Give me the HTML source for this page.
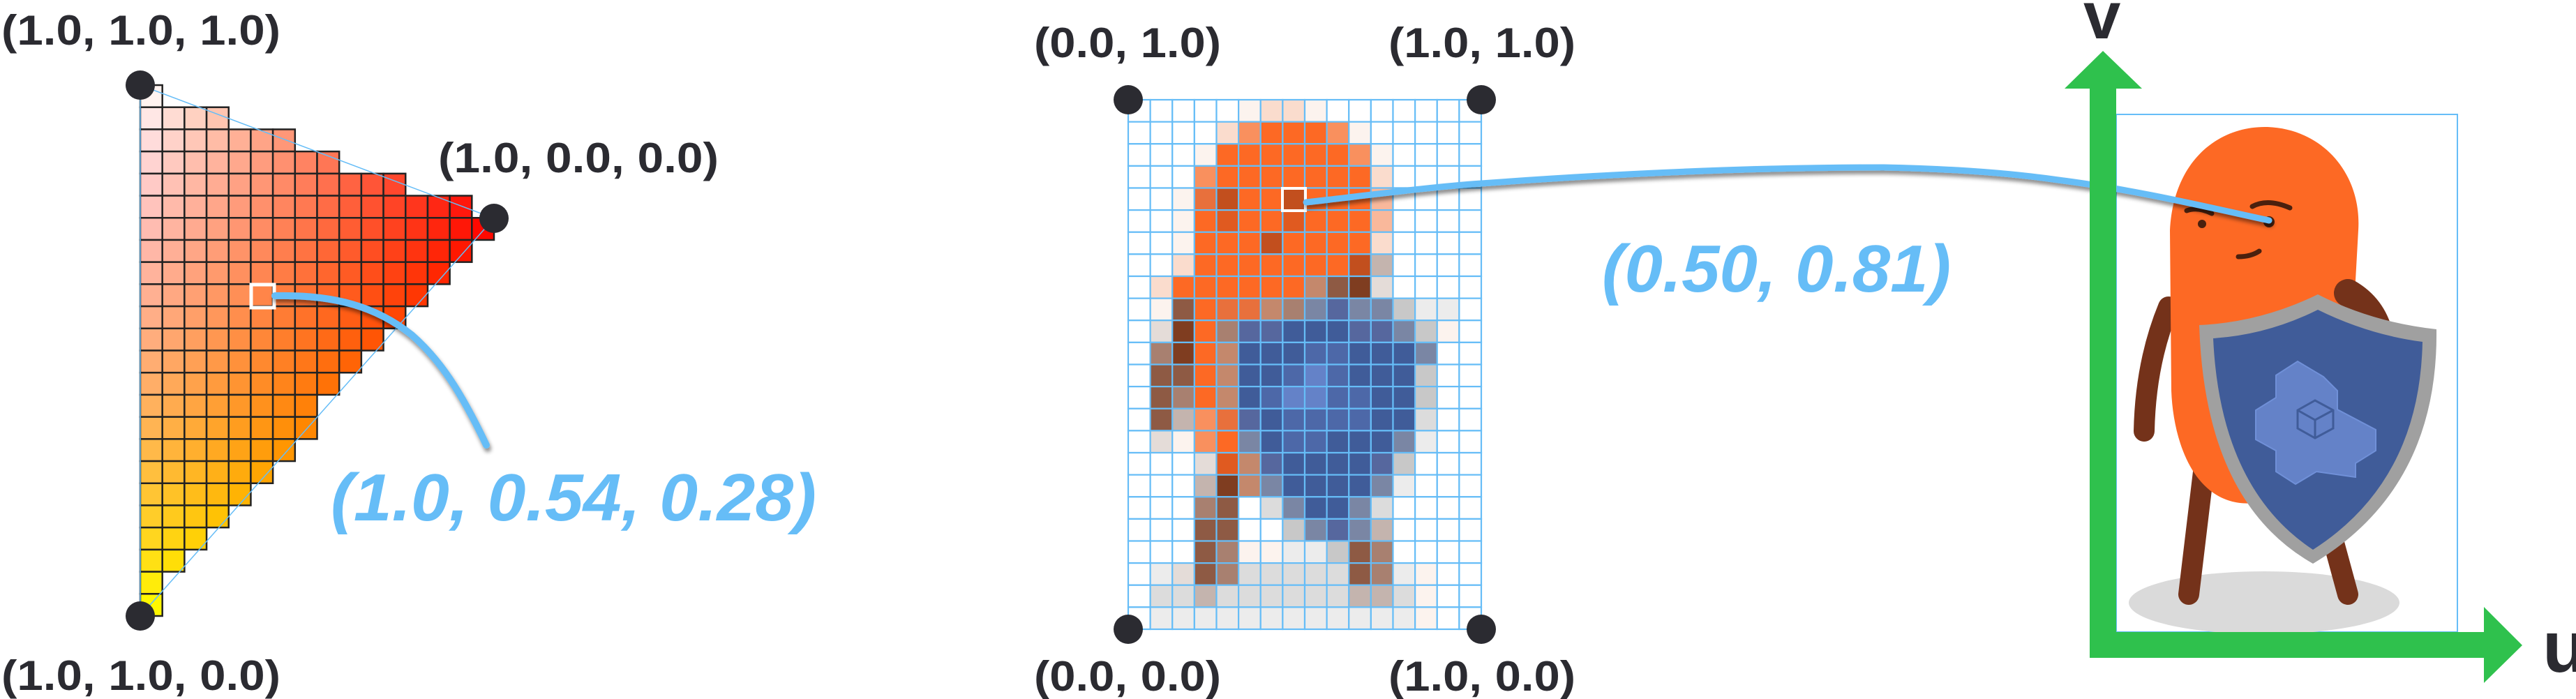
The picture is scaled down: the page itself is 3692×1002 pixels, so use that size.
<!DOCTYPE html>
<html><head><meta charset="utf-8">
<style>
html,body{margin:0;padding:0;background:#fff;}
svg{display:block;}
text{font-family:"Liberation Sans",sans-serif;font-weight:bold;}
</style></head>
<body>
<svg id="s" width="3692" height="1002" viewBox="0 0 3692 1002" xmlns="http://www.w3.org/2000/svg">
<defs>
<filter id="sh" x="-20%" y="-20%" width="140%" height="160%"><feDropShadow dx="2" dy="5" stdDeviation="3" flood-color="#000" flood-opacity="0.45"/></filter>
</defs>
<g id="tri"></g>
<polygon points="201,122 708,313 201,883" fill="none" stroke="#66bdf7" stroke-width="1.5"/>
<rect x="360" y="408" width="33" height="33" fill="none" stroke="#fff" stroke-width="5"/>
<path d="M394,424 C480,422 540,440 590,480 C630,515 660,560 697,638" fill="none" stroke="#66bdf7" stroke-width="10" stroke-linecap="round" filter="url(#sh)"/>
<circle cx="201" cy="122" r="21" fill="#2b2b31"/>
<circle cx="708" cy="313" r="21" fill="#2b2b31"/>
<circle cx="201" cy="883" r="21" fill="#2b2b31"/>
<text x="2" y="64" font-size="60" fill="#2b2b31" textLength="400" lengthAdjust="spacingAndGlyphs">(1.0, 1.0, 1.0)</text>
<text x="628" y="247" font-size="60" fill="#2b2b31" textLength="402" lengthAdjust="spacingAndGlyphs">(1.0, 0.0, 0.0)</text>
<text x="2" y="989" font-size="60" fill="#2b2b31" textLength="400" lengthAdjust="spacingAndGlyphs">(1.0, 1.0, 0.0)</text>
<text x="474" y="746" font-size="96" font-style="italic" fill="#66bdf7" textLength="696" lengthAdjust="spacingAndGlyphs">(1.0, 0.54, 0.28)</text>

<g id="pix"></g>
<rect x="1838" y="270" width="33" height="32" fill="none" stroke="#fff" stroke-width="4"/>
<circle cx="1617" cy="143" r="21" fill="#2b2b31"/>
<circle cx="2123" cy="143" r="21" fill="#2b2b31"/>
<circle cx="1617" cy="902" r="21" fill="#2b2b31"/>
<circle cx="2123" cy="902" r="21" fill="#2b2b31"/>
<text x="1482" y="82" font-size="60" fill="#2b2b31" textLength="268" lengthAdjust="spacingAndGlyphs">(0.0, 1.0)</text>
<text x="1990" y="82" font-size="60" fill="#2b2b31" textLength="268" lengthAdjust="spacingAndGlyphs">(1.0, 1.0)</text>
<text x="1482" y="990" font-size="60" fill="#2b2b31" textLength="268" lengthAdjust="spacingAndGlyphs">(0.0, 0.0)</text>
<text x="1990" y="990" font-size="60" fill="#2b2b31" textLength="268" lengthAdjust="spacingAndGlyphs">(1.0, 0.0)</text>
<text x="2296" y="418" font-size="96" font-style="italic" fill="#66bdf7" textLength="500" lengthAdjust="spacingAndGlyphs">(0.50, 0.81)</text>

<!-- right: character -->
<rect x="3033" y="164" width="489" height="742" fill="none" stroke="#66bdf7" stroke-width="2"/>
<ellipse cx="3245" cy="864" rx="194" ry="45" fill="#dadada"/>
<g stroke-linecap="round" fill="none">
<path d="M3108,440 Q3075,520 3073,618" stroke="#74321a" stroke-width="30"/>
<path d="M3160,660 L3137,852" stroke="#74321a" stroke-width="30"/>
<path d="M3340,760 L3365,852" stroke="#74321a" stroke-width="30"/>
<path d="M3110,330 C3115,230 3180,180 3250,182 C3330,185 3385,250 3380,330 L3375,420 C3370,520 3330,700 3240,720 C3150,735 3115,640 3112,560 Z" fill="#fd6924"/>
<path d="M3365,420 Q3400,440 3410,480" stroke="#74321a" stroke-width="40"/>
<circle cx="3156" cy="321" r="6" fill="#4a200e"/>
<circle cx="3252" cy="318" r="8" fill="#4a200e"/>
<path d="M3134,302 Q3150,296 3170,306" stroke="#4a200e" stroke-width="7"/>
<path d="M3228,296 Q3250,284 3282,298" stroke="#4a200e" stroke-width="7"/>
<path d="M3208,368 Q3226,368 3238,360" stroke="#4a200e" stroke-width="7"/>
</g>
<g>
<path d="M3152,466 Q3240,462 3322,422 Q3400,462 3492,472 Q3495,700 3315,808 Q3160,720 3152,466 Z" fill="#a0a0a0"/>
<path d="M3172,485 Q3250,480 3322,444 Q3395,480 3472,490 Q3468,690 3315,788 Q3182,700 3172,485 Z" fill="#405c99"/>
<g fill="#6482c8" stroke="#7090d8" stroke-width="2">
<polygon points="3262,538 3293,518 3330,540 3350,560 3350,587 3405,616 3405,646 3376,664 3376,684 3320,676 3290,694 3262,676 3262,646 3233,630 3233,588 3262,570"/>
</g>
<g fill="none" stroke="#405c99" stroke-width="3">
<polygon points="3293,588 3318,574 3344,588 3344,614 3318,628 3293,614"/>
<path d="M3293,588 L3318,602 L3344,588 M3318,602 L3318,628"/>
</g>
</g>
<path d="M1872,290 C1960,280 2050,268 2123,263 C2300,250 2500,240 2700,240 C2800,242 2880,248 2950,258 C3060,272 3160,296 3252,316" fill="none" stroke="#66bdf7" stroke-width="9" stroke-linecap="round" filter="url(#sh)"/>
<g fill="#2fc14d">
<rect x="2995" y="127" width="38" height="816"/>
<polygon points="3014,73 3070,127 2959,127"/>
<rect x="2995" y="906" width="566" height="37"/>
<polygon points="3615,925 3560,870 3560,979"/>
</g>
<text x="2986" y="55" font-size="96" fill="#2b2b31">v</text>
<text x="3644" y="963" font-size="104" fill="#2b2b31">u</text>
</svg>
<script>
// Left triangle: number of cells in each row (top to bottom)
const rowCounts = [1,4,7,9,12,15,16,15,14,13,12,11,10,9,8,8,7,6,5,4,3,2,1,1];
// Vertex colours (r,g,b) for top, right, bottom
const topColor = [1,1,1];
const rightColor = [1,0,0];
const bottomColor = [1,1,0];
// Texture pixel map (16 x 24)
const pixelRows = [
".....fppf.......",
"....poOOOof.....",
"...fOOOOOOof....",
"...oOOOOOOOp....",
"..fedOOdOOOq....",
"..fODOODOOOq....",
"..fOOOdOOOOp....",
"..pOOOOOOOdx....",
".pOOOOOOknNz....",
".fnOeekmvwvvghh.",
".zNOmwwBBBwwvgf.",
".mNOkBBBbbBBBv..",
".nnOkBBbLbBBBg..",
".nmOkBbLLbbBBg..",
".nxoewBbbbbBBG..",
".zfoOvBbbBBBvh..",
"...zDkwBBBBwg...",
"...xNkvBBBBvh...",
"...mn.GvBBvG....",
"...nn..gvwvx....",
"...nmffhhgnm....",
".hznmGGGGGnmhf..",
".GGxGGGGGGxxGf..",
".hhhhhhhhhhhhf.."];
const palette = {'.':'#ffffff','f':'#fcf3ee','p':'#fadccd','q':'#f9b89b','o':'#f9905e','O':'#fd6924','e':'#e8703c','d':'#c24f1e','D':'#e05a20','N':'#7f3d20','n':'#8e5a44','m':'#a88070','k':'#c4886c','B':'#405c99','b':'#4d68a8','L':'#6482c8','v':'#7a86a4','g':'#c8c8c8','G':'#dcdcdc','h':'#ececec','x':'#c4b4ae','z':'#e4dcd8','w':'#56679e'};

const NS='http://www.w3.org/2000/svg';
const T=[201,122],R=[708,313],Bv=[201,883];
const cw=507/16, ch=761/24;
function bary(x,y){
  const d=(R[1]-Bv[1])*(T[0]-Bv[0])+(Bv[0]-R[0])*(T[1]-Bv[1]);
  let a=((R[1]-Bv[1])*(x-Bv[0])+(Bv[0]-R[0])*(y-Bv[1]))/d;
  let b=((Bv[1]-T[1])*(x-Bv[0])+(T[0]-Bv[0])*(y-Bv[1]))/d;
  a=Math.max(0,Math.min(1,a));b=Math.max(0,Math.min(1,b));
  let c=Math.max(0,1-a-b);const s=a+b+c;return [a/s,b/s,c/s];
}
const tri=document.getElementById('tri');
rowCounts.forEach((n,r)=>{
  for(let c=0;c<n;c++){
    const x=T[0]+c*cw, y=T[1]+r*ch;
    const w=bary(x+cw/2,y+ch/2);
    // reference blends toward red more strongly mid-way between white and yellow
    const wr=Math.min(1,w[1]+1.24*w[0]*w[2]);
    const wt=w[0]*(1-0.5*w[1]);
    const g=Math.max(0,1-wr)*topColor[1]+0*rightColor[1];
    const b=wt*topColor[2]+0*bottomColor[2];
    const col=[255,Math.round(255*g),Math.round(255*Math.max(0,b))];
    const el=document.createElementNS(NS,'rect');
    
    
    el.setAttribute('x',x);el.setAttribute('y',y);el.setAttribute('width',cw);el.setAttribute('height',ch);
    el.setAttribute('fill','rgb('+col.join(',')+')');
    el.setAttribute('stroke','#222');el.setAttribute('stroke-width','2.5');
    tri.appendChild(el);
  }
});
const P0=[1617,143], pw=506/16, ph=759/24;
const pix=document.getElementById('pix');
pixelRows.forEach((row,r)=>{
  for(let c=0;c<16;c++){
    const el=document.createElementNS(NS,'rect');
    
    
    el.setAttribute('x',P0[0]+c*pw);el.setAttribute('y',P0[1]+r*ph);
    el.setAttribute('width',pw);el.setAttribute('height',ph);
    el.setAttribute('fill',palette[row[c]]||'#fff');
    el.setAttribute('stroke','#66bdf7');el.setAttribute('stroke-width','2.2');
    pix.appendChild(el);
  }
});
</script>
</body></html>
